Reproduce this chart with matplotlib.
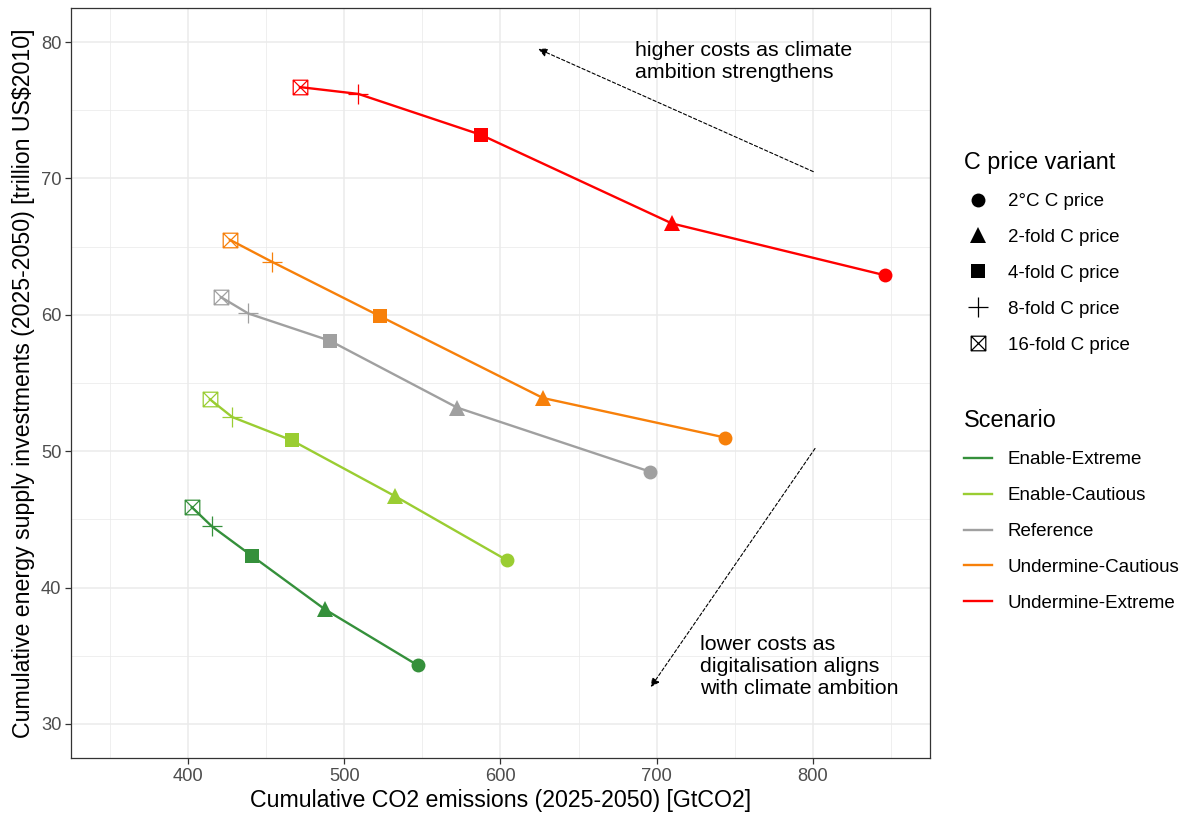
import matplotlib
matplotlib.use('Agg')
import matplotlib.pyplot as plt
from matplotlib.path import Path
from matplotlib.lines import Line2D
from matplotlib.ticker import MultipleLocator

plt.rcParams['font.family'] = ['Liberation Sans', 'DejaVu Sans']

# scenario data, points ordered 2°C, 2-fold, 4-fold, 8-fold, 16-fold
scenarios = ['Enable-Extreme', 'Enable-Cautious', 'Reference', 'Undermine-Cautious', 'Undermine-Extreme']
variants = ['2°C C price', '2-fold C price', '4-fold C price', '8-fold C price', '16-fold C price']

emissions = {
    'Enable-Extreme':     [547.0, 487.6, 441.1, 415.1, 402.3],
    'Enable-Cautious':    [604.2, 532.5, 466.3, 428.3, 414.0],
    'Reference':          [695.7, 572.2, 490.8, 438.5, 421.0],
    'Undermine-Cautious': [743.8, 627.2, 522.8, 453.5, 426.8],
    'Undermine-Extreme':  [846.2, 709.8, 587.5, 509.0, 471.6],
}
investments = {
    'Enable-Extreme':     [34.3, 38.4, 42.3, 44.5, 45.9],
    'Enable-Cautious':    [42.0, 46.7, 50.8, 52.5, 53.8],
    'Reference':          [48.5, 53.2, 58.1, 60.1, 61.3],
    'Undermine-Cautious': [51.0, 53.9, 59.9, 63.9, 65.5],
    'Undermine-Extreme':  [62.9, 66.7, 73.2, 76.2, 76.7],
}

colors = {
    'Enable-Extreme': '#35903b',
    'Enable-Cautious': '#9acd32',
    'Reference': '#a0a0a0',
    'Undermine-Cautious': '#f7800a',
    'Undermine-Extreme': '#ff0000',
}

# boxed X marker (ggplot shape 7)
boxx = Path([(-1, -1), (1, -1), (1, 1), (-1, 1), (-1, -1),
             (-1, -1), (1, 1), (-1, 1), (1, -1)],
            [Path.MOVETO, Path.LINETO, Path.LINETO, Path.LINETO, Path.CLOSEPOLY,
             Path.MOVETO, Path.LINETO, Path.MOVETO, Path.LINETO])

markers = ['o', '^', 's', '+', boxx]
msizes = [10, 12, 10.4, 15, 10.5]
filled = [True, True, True, False, False]

fig = plt.figure(figsize=(11.85, 8.17), dpi=100)
ax = fig.add_axes([0.0599, 0.0722, 0.7249, 0.918])

for s in scenarios:
    c = colors[s]
    ax.plot(emissions[s], investments[s], color=c, lw=1.7, zorder=3)
    for i in range(len(variants)):
        if filled[i]:
            ax.plot(emissions[s][i], investments[s][i], marker=markers[i], ms=msizes[i],
                    color=c, mec=c, mew=0, ls='none', zorder=4)
        else:
            ax.plot(emissions[s][i], investments[s][i], marker=markers[i], ms=msizes[i],
                    color=c, mfc='none', mec=c, mew=0.9, ls='none', zorder=4)

# annotations
ax.annotate('', xy=(624.2, 79.5), xytext=(800.3, 70.5),
            arrowprops=dict(arrowstyle='-|>', ls=(0, (3, 2)), lw=0.8, color='black',
                            mutation_scale=13, shrinkA=0, shrinkB=0))
ax.text(686, 78.6, 'higher costs as climate\nambition strengthens', ha='left', va='center',
        fontsize=15.4, linespacing=1.2)
ax.annotate('', xy=(696.2, 32.7), xytext=(801.4, 50.2),
            arrowprops=dict(arrowstyle='-|>', ls=(0, (3, 2)), lw=0.8, color='black',
                            mutation_scale=13, shrinkA=0, shrinkB=0))
ax.text(728, 34.2, 'lower costs as\ndigitalisation aligns\nwith climate ambition', ha='left', va='center',
        fontsize=15.4, linespacing=1.2)

ax.set_xlim(325, 875)
ax.set_ylim(27.5, 82.5)
ax.xaxis.set_major_locator(MultipleLocator(100))
ax.xaxis.set_minor_locator(MultipleLocator(50))
ax.yaxis.set_major_locator(MultipleLocator(10))
ax.yaxis.set_minor_locator(MultipleLocator(5))
ax.set_xticks([400, 500, 600, 700, 800])
ax.grid(which='major', color='#ebebeb', lw=1.1, zorder=0)
ax.grid(which='minor', color='#ebebeb', lw=0.55, zorder=0)
ax.set_axisbelow(True)
for sp in ax.spines.values():
    sp.set_color('#333333')
    sp.set_linewidth(0.9)
ax.tick_params(which='major', length=4, width=0.9, color='#333333', labelcolor='#4d4d4d',
               labelsize=13.2, pad=3)
ax.tick_params(which='minor', length=0)
ax.set_xlabel('Cumulative CO2 emissions (2025-2050) [GtCO2]', fontsize=16.7, labelpad=3)
ax.set_ylabel('Cumulative energy supply investments (2025-2050) [trillion US\\$2010]',
              fontsize=16.7, labelpad=4)

# legends
shape_handles = []
for i in range(len(variants)):
    if filled[i]:
        h = Line2D([], [], marker=markers[i], ms=msizes[i], color='black', mew=0, ls='none')
    else:
        h = Line2D([], [], marker=markers[i], ms=msizes[i], color='black', mfc='none',
                   mec='black', mew=0.9, ls='none')
    shape_handles.append(h)
leg1 = fig.legend(shape_handles, variants, title='C price variant', loc='upper left',
                  bbox_to_anchor=(0.807, 0.824), frameon=False, fontsize=13.5,
                  title_fontsize=16.8, labelspacing=1.0, handlelength=1.5, handletextpad=0.85,
                  alignment='left', borderaxespad=0)

line_handles = [Line2D([], [], color=colors[s], lw=1.7) for s in scenarios]
leg2 = fig.legend(line_handles, scenarios, title='Scenario', loc='upper left',
                  bbox_to_anchor=(0.807, 0.508), frameon=False, fontsize=13.5,
                  title_fontsize=16.8, labelspacing=1.0, handlelength=1.5, handletextpad=0.85,
                  alignment='left', borderaxespad=0)

fig.savefig('out.png', dpi=100)
